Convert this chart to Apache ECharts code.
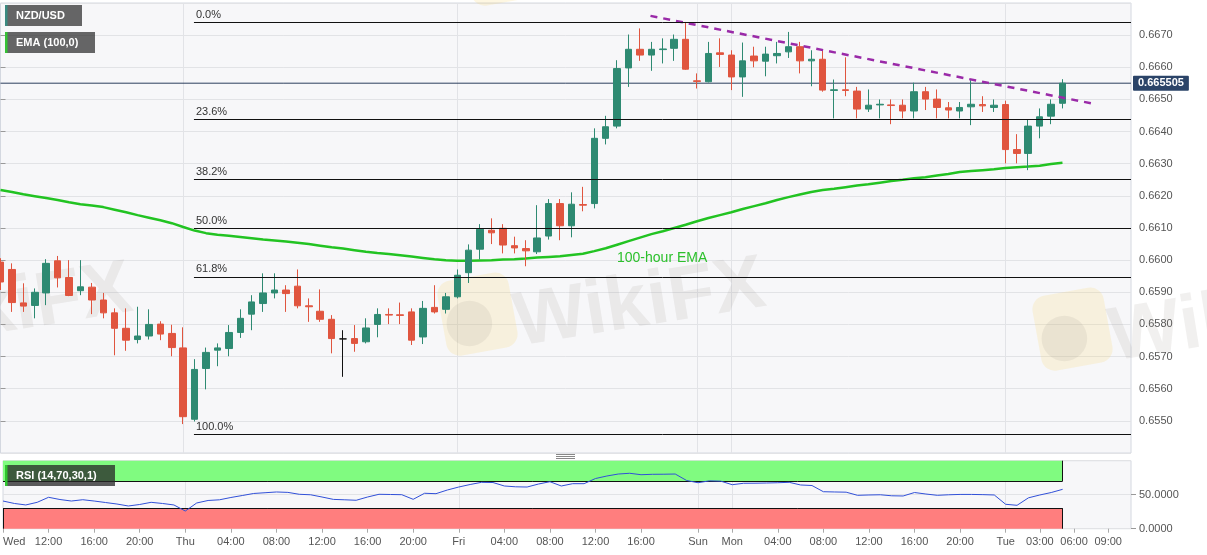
<!DOCTYPE html>
<html><head><meta charset="utf-8">
<script src="https://cdn.jsdelivr.net/npm/echarts@6/dist/echarts.min.js"></script>
<style>html,body{margin:0;padding:0;background:#fff;}#c{width:1207px;height:555px;}</style>
</head><body><div id="c"></div>
<script>
// ---------- categories (hourly candles, weekend gap removed) ----------
function pad(h){return (h<10?'0':'')+h+':00';}
const categories=[];
[['Wed',8,23],['Thu',0,23],['Fri',0,20],['Sun',21,23],['Mon',0,23],['Tue',0,11]].forEach(function(s){
  for(let h=s[1];h<=s[2];h++) categories.push(s[0]+' '+pad(h));
});

// ---------- OHLC (NZD/USD, 1h) ----------
const openP=[0.65994,0.65971,0.65867,0.65859,0.65898,0.65998,0.65946,0.65905,0.65916,0.65876,
0.65836,0.65788,0.65753,0.65764,0.65801,0.65772,0.65727,0.65505,0.65663,0.65720,
0.65725,0.65775,0.65832,0.65865,0.65898,0.65907,0.65919,0.65858,0.65841,0.65816,
0.65755,0.65756,0.65746,0.65800,0.65831,0.65830,0.65839,0.65761,0.65853,0.65847,
0.65886,0.65961,0.66034,0.66093,0.66099,0.66045,0.66036,0.66026,0.66075,0.66176,
0.66107,0.66173,0.66176,0.66379,0.66417,0.66598,0.66656,0.66638,0.66655,0.66659,
0.66687,0.66558,0.66555,0.66645,0.66638,0.66570,0.66635,0.66619,0.66636,0.66648,
0.66664,0.66620,0.66625,0.66528,0.66530,0.66526,0.66470,0.66483,0.66483,0.66482,
0.66464,0.66524,0.66501,0.66474,0.66464,0.66477,0.66484,0.66475,0.66484,0.66344,
0.66332,0.66417,0.66448,0.66488];
const closeP=[0.65932,0.65868,0.65857,0.65900,0.65990,0.65945,0.65890,0.65917,0.65876,0.65836,
0.65788,0.65751,0.65764,0.65800,0.65770,0.65728,0.65513,0.65660,0.65713,0.65727,
0.65775,0.65819,0.65870,0.65898,0.65907,0.65896,0.65858,0.65855,0.65816,0.65756,
0.65755,0.65741,0.65789,0.65831,0.65829,0.65828,0.65751,0.65850,0.65839,0.65886,
0.65953,0.66031,0.66096,0.66085,0.66047,0.66038,0.66029,0.66069,0.66176,0.66107,
0.66174,0.66171,0.66379,0.66415,0.66596,0.66656,0.66638,0.66656,0.66657,0.66687,
0.66594,0.66556,0.66643,0.66640,0.66570,0.66620,0.66620,0.66641,0.66643,0.66664,
0.66620,0.66625,0.66529,0.66530,0.66528,0.66470,0.66482,0.66485,0.66481,0.66464,
0.66524,0.66501,0.66475,0.66467,0.66475,0.66485,0.66480,0.66482,0.66344,0.66332,
0.66417,0.66446,0.66485,0.665505];
const lowP=[0.65907,0.65839,0.65839,0.65819,0.65860,0.65915,0.65888,0.65891,0.65832,0.65819,
0.65704,0.65718,0.65741,0.65753,0.65751,0.65701,0.65490,0.65498,0.65598,0.65670,
0.65701,0.65758,0.65782,0.65839,0.65881,0.65839,0.65850,0.65808,0.65808,0.65710,
0.65637,0.65715,0.65741,0.65760,0.65801,0.65801,0.65736,0.65739,0.65834,0.65834,
0.65881,0.65929,0.66002,0.66050,0.66021,0.66021,0.65981,0.66019,0.66064,0.66062,
0.66071,0.66152,0.66161,0.66360,0.66410,0.66539,0.66620,0.66589,0.66612,0.66620,
0.66592,0.66534,0.66553,0.66601,0.66529,0.66508,0.66600,0.66572,0.66612,0.66629,
0.66581,0.66541,0.66524,0.66441,0.66510,0.66441,0.66461,0.66441,0.66423,0.66441,
0.66441,0.66467,0.66441,0.66441,0.66441,0.66420,0.66461,0.66461,0.66301,0.66301,
0.66280,0.66379,0.66423,0.66472];
const highP=[0.66006,0.65990,0.65928,0.65912,0.66003,0.66013,0.66000,0.66000,0.65929,0.65898,
0.65850,0.65850,0.65855,0.65847,0.65810,0.65799,0.65791,0.65692,0.65728,0.65741,
0.65798,0.65847,0.65891,0.65959,0.65959,0.65922,0.65971,0.65881,0.65909,0.65829,
0.65782,0.65798,0.65819,0.65850,0.65850,0.65868,0.65850,0.65873,0.65922,0.65898,
0.65971,0.66049,0.66112,0.66130,0.66112,0.66073,0.66062,0.66171,0.66190,0.66190,
0.66211,0.66228,0.66410,0.66449,0.66622,0.66702,0.66721,0.66679,0.66690,0.66702,
0.66741,0.66581,0.66679,0.66690,0.66653,0.66677,0.66664,0.66664,0.66679,0.66710,
0.66679,0.66653,0.66653,0.66562,0.66631,0.66539,0.66531,0.66500,0.66500,0.66500,
0.66552,0.66539,0.66531,0.66492,0.66492,0.66560,0.66510,0.66500,0.66496,0.66392,
0.66438,0.66472,0.66500,0.66563];

// ---------- 100-hour EMA ----------
const ema100=[0.66218,0.66212,0.66205,0.66199,0.66193,0.66187,0.66180,0.66174,0.66170,0.66165,
0.66157,0.66149,0.66140,0.66132,0.66124,0.66115,0.66103,0.66092,0.66084,0.66079,
0.66076,0.66072,0.66068,0.66064,0.66061,0.66058,0.66054,0.66050,0.66045,0.66040,
0.66036,0.66031,0.66026,0.66022,0.66019,0.66015,0.66011,0.66007,0.66003,0.66000,
0.65998,0.65998,0.65999,0.66000,0.66002,0.66003,0.66005,0.66008,0.66010,0.66012,
0.66016,0.66020,0.66028,0.66037,0.66048,0.66059,0.66070,0.66081,0.66090,0.66100,
0.66110,0.66121,0.66131,0.66140,0.66149,0.66159,0.66168,0.66177,0.66187,0.66196,
0.66204,0.66212,0.66218,0.66222,0.66227,0.66232,0.66236,0.66241,0.66246,0.66250,
0.66255,0.66258,0.66263,0.66268,0.66274,0.66277,0.66280,0.66283,0.66287,0.66289,
0.66291,0.66294,0.66299,0.66303];

// ---------- RSI(14) ----------
const rsi14=[40.7,37.1,34.9,38.8,46.2,42.9,40.7,42.6,40.7,38.5,
36.3,33.4,35.6,38.8,37.1,34.9,26.0,37.8,41.5,42.5,
45.9,48.8,51.8,52.9,54.0,53.4,50.6,49.9,46.6,43.1,
42.5,41.8,46.6,50.6,50.3,50.0,43.2,52.1,51.5,56.9,
61.3,65.0,68.2,67.9,62.8,61.6,61.3,65.7,69.1,62.8,
66.2,66.2,73.8,77.5,80.4,81.5,79.4,80.0,80.1,80.4,
70.9,67.6,70.4,69.9,64.7,66.8,66.9,67.2,67.6,68.2,
64.3,63.5,54.4,54.0,53.7,49.1,49.6,49.9,48.4,48.1,
53.2,51.0,49.1,49.9,50.4,50.4,50.1,49.6,35.9,34.4,
45.4,49.6,53.2,57.9];

// ---------- Fibonacci retracement & trend line ----------
const fibNames=['0.0%','23.6%','38.2%','50.0%','61.8%','100.0%'];
const fibLevels=[0.66740,0.66438,0.66251,0.66100,0.65948,0.65459];
const fibStart=16.94;          // bar position where the fib lines begin
const trendX=[56.92,95.93];    // bar positions of the resistance line ends
const trendY=[0.66760,0.66485];
const lastPrice=0.665505;

// ---------- axis ticks ----------
const tickCats=['Wed 08:00','Wed 12:00','Wed 16:00','Wed 20:00','Thu 00:00','Thu 04:00','Thu 08:00','Thu 12:00','Thu 16:00','Thu 20:00',
'Fri 00:00','Fri 04:00','Fri 08:00','Fri 12:00','Fri 16:00','Sun 21:00','Mon 00:00','Mon 04:00','Mon 08:00','Mon 12:00','Mon 16:00','Mon 20:00',
'Tue 00:00','Tue 03:00','Tue 06:00','Tue 09:00'];
const tickTexts=['Wed','12:00','16:00','20:00','Thu','04:00','08:00','12:00','16:00','20:00',
'Fri','04:00','08:00','12:00','16:00','Sun','Mon','04:00','08:00','12:00','16:00','20:00',
'Tue','03:00','06:00','09:00'];
const dayLines=['Thu 00:00','Fri 00:00','Sun 21:00','Mon 00:00','Tue 00:00'];

const UP='#2e8a72', DOWN='#e0553f';
const candleData=openP.map(function(o,i){
  const item={value:[o,closeP[i],lowP[i],highP[i]]};
  if(o===closeP[i]) item.itemStyle={color:'#111',color0:'#111',borderColor:'#111',borderColor0:'#111',borderColorDoji:'#111'};
  return item;
});
const lastIdx=openP.length-1;
const xEnd=categories.length-1;
const isTick=function(i,v){return tickCats.indexOf(v)>=0;};
const isDay=function(i,v){return dayLines.indexOf(v)>=0;};
const FONT='"Liberation Sans", Arial, sans-serif';

function watermark(x,y,size,showText,showLogo){
  const els=[];
  if(showLogo){
    els.push({type:'rect',x:x-size*1.05,y:y-size*0.55,rotation:0.18,shape:{x:0,y:0,width:size*0.95,height:size*1.0,r:size*0.18},style:{fill:'rgba(250,215,110,0.2)'},silent:true,z:1});
    els.push({type:'circle',shape:{cx:x-size*0.6,cy:y-size*0.02,r:size*0.3},style:{fill:'rgba(140,130,120,0.11)'},silent:true,z:1});
  }
  if(showText){
    els.push({type:'text',x:x,y:y,rotation:0.16,style:{text:'WikiFX',fill:'rgba(150,140,135,0.13)',font:'bold '+size+'px '+FONT,verticalAlign:'middle',align:'left'},silent:true,z:1});
  }
  return els;
}

const graphics=[].concat(
  watermark(515,325,76,true,true),
  watermark(1110,340,76,true,true),
  watermark(-118,330,76,true,false),
  watermark(540,-25,76,true,true),
  [
  {type:'rect',shape:{x:5,y:5,width:77,height:21},style:{fill:'rgba(45,45,45,0.72)'},z:100},
  {type:'rect',shape:{x:5,y:5,width:2.5,height:21},style:{fill:'#3a8a80'},z:101},
  {type:'text',style:{x:16,y:15.8,text:'NZD/USD',fill:'#fff',font:'bold 11px '+FONT,verticalAlign:'middle'},z:101},
  {type:'rect',shape:{x:5,y:32,width:90,height:21},style:{fill:'rgba(45,45,45,0.72)'},z:100},
  {type:'rect',shape:{x:5,y:32,width:2.5,height:21},style:{fill:'#35c235'},z:101},
  {type:'text',style:{x:16,y:42.8,text:'EMA (100,0)',fill:'#fff',font:'bold 11px '+FONT,verticalAlign:'middle'},z:101},
  {type:'rect',shape:{x:5,y:465,width:110,height:21},style:{fill:'rgba(40,40,40,0.76)'},z:100},
  {type:'rect',shape:{x:5,y:465,width:2.5,height:21},style:{fill:'#2fc52f'},z:101},
  {type:'text',style:{x:16,y:475.8,text:'RSI (14,70,30,1)',fill:'#fff',font:'bold 11px '+FONT,verticalAlign:'middle'},z:101},
  {type:'text',style:{x:617,y:258,text:'100-hour EMA',fill:'#2cc02c',font:'14px '+FONT,verticalAlign:'middle'},z:50},
  {type:'line',shape:{x1:556,y1:454.5,x2:575,y2:454.5},style:{stroke:'#888',lineWidth:1},z:50},
  {type:'line',shape:{x1:556,y1:456.5,x2:575,y2:456.5},style:{stroke:'#888',lineWidth:1},z:50},
  {type:'line',shape:{x1:556,y1:458.5,x2:575,y2:458.5},style:{stroke:'#888',lineWidth:1},z:50}
  ]
);

const chart=echarts.init(document.getElementById('c'));
chart.setOption({
  animation:false,
  backgroundColor:'#ffffff',
  textStyle:{fontFamily:FONT},
  grid:[
    {left:0.5,width:1130.5,top:3,height:450,show:true,backgroundColor:'#f7f7f9',borderColor:'#d4d8e0',borderWidth:1},
    {left:0.5,width:1130.5,top:460.7,height:68,show:true,backgroundColor:'#f7f7f9',borderColor:'#d4d8e0',borderWidth:1}
  ],
  xAxis:[
    {type:'category',gridIndex:0,data:categories,boundaryGap:false,axisLine:{show:false},axisTick:{show:false},axisLabel:{show:false},
     splitLine:{show:true,interval:isDay,lineStyle:{color:'#e2e3e7',width:1}}},
    {type:'category',gridIndex:1,data:categories,boundaryGap:false,axisLine:{show:false},
     axisTick:{show:true,interval:isTick,length:4,lineStyle:{color:'#aaa'}},
     axisLabel:{interval:isTick,color:'#555',fontSize:11,margin:8,alignMinLabel:'left',
       formatter:function(v){const k=tickCats.indexOf(v);return k>=0?tickTexts[k]:'';}},
     splitLine:{show:true,interval:isDay,lineStyle:{color:'#e2e3e7',width:1}}},
    {type:'value',gridIndex:0,min:0,max:xEnd,show:false}
  ],
  yAxis:[
    {type:'value',gridIndex:0,position:'right',min:0.654,max:0.668,interval:0.001,
     axisLine:{show:false},axisTick:{show:true,length:5,lineStyle:{color:'#999'}},
     axisLabel:{formatter:function(v){return v.toFixed(4);},color:'#555',fontSize:11,margin:8,showMinLabel:false,showMaxLabel:false},
     splitLine:{show:true,lineStyle:{color:'#e2e3e6'}}},
    {type:'value',gridIndex:1,position:'right',min:0,max:100,interval:50,
     axisLine:{show:false},axisTick:{show:true,length:5,lineStyle:{color:'#999'}},
     axisLabel:{formatter:function(v){return v.toFixed(4);},color:'#555',fontSize:11,margin:8,showMaxLabel:false},
     splitLine:{show:true,lineStyle:{color:'#e2e3e6'}}}
  ],
  series:[
    {type:'line',name:'EMA',xAxisIndex:0,yAxisIndex:0,data:ema100,showSymbol:false,symbol:'none',silent:true,z:2,
     lineStyle:{color:'#22c322',width:2.5}},
    {type:'line',name:'last',xAxisIndex:2,yAxisIndex:0,data:[[0,lastPrice],[xEnd,lastPrice]],showSymbol:false,symbol:'none',silent:true,z:2,
     lineStyle:{color:'#2c3f5e',width:1},
     endLabel:{show:true,distance:2,formatter:function(){return lastPrice.toFixed(6);},backgroundColor:'#2b4468',color:'#fff',
              fontWeight:'bold',fontSize:11,padding:[2,5,2,5],borderRadius:1}},
    {type:'candlestick',name:'NZD/USD',xAxisIndex:0,yAxisIndex:0,data:candleData,barWidth:7,z:3,
     itemStyle:{color:UP,color0:DOWN,borderColor:UP,borderColor0:DOWN,borderColorDoji:'#111',borderWidth:1}},
    {type:'line',name:'trend',xAxisIndex:2,yAxisIndex:0,data:trendX.map(function(x,i){return [x,trendY[i]];}),
     showSymbol:false,symbol:'none',silent:true,z:4,
     lineStyle:{color:'#9a2aa8',width:2.5,type:[7,6]},
     markLine:{symbol:['none','none'],silent:true,animation:false,
       lineStyle:{color:'#111',width:1,type:'solid'},
       label:{show:true,position:'insideStartTop',formatter:'{b}',color:'#333',fontSize:11,distance:2},
       data:fibLevels.map(function(v,i){return [{coord:[fibStart,v],name:fibNames[i]},{coord:[xEnd,v]}];})}},
    {type:'line',name:'bands',xAxisIndex:1,yAxisIndex:1,data:rsi14,showSymbol:false,symbol:'none',silent:true,z:1,
     lineStyle:{opacity:0},
     markArea:{silent:true,animation:false,data:[
       [{xAxis:categories[0],yAxis:70,itemStyle:{color:'#80fb80'}},{xAxis:categories[lastIdx],yAxis:100}],
       [{xAxis:categories[0],yAxis:0,itemStyle:{color:'#ff7e7e'}},{xAxis:categories[lastIdx],yAxis:30}]
     ]},
     markLine:{symbol:['none','none'],silent:true,animation:false,label:{show:false},
       lineStyle:{color:'#111',width:1,type:'solid'},
       data:[
         [{coord:[categories[0],70]},{coord:[categories[lastIdx],70]}],
         [{coord:[categories[0],30]},{coord:[categories[lastIdx],30]}],
         [{coord:[categories[lastIdx],100]},{coord:[categories[lastIdx],70]}],
         [{coord:[categories[lastIdx],30]},{coord:[categories[lastIdx],0]}],
         [{coord:[categories[0],30]},{coord:[categories[0],0]}]
       ]}},
    {type:'line',name:'RSI',xAxisIndex:1,yAxisIndex:1,data:rsi14,showSymbol:false,symbol:'none',silent:true,z:5,
     lineStyle:{color:'#3150d8',width:1}}
  ],
  graphic:graphics
});
</script>
</body></html>
